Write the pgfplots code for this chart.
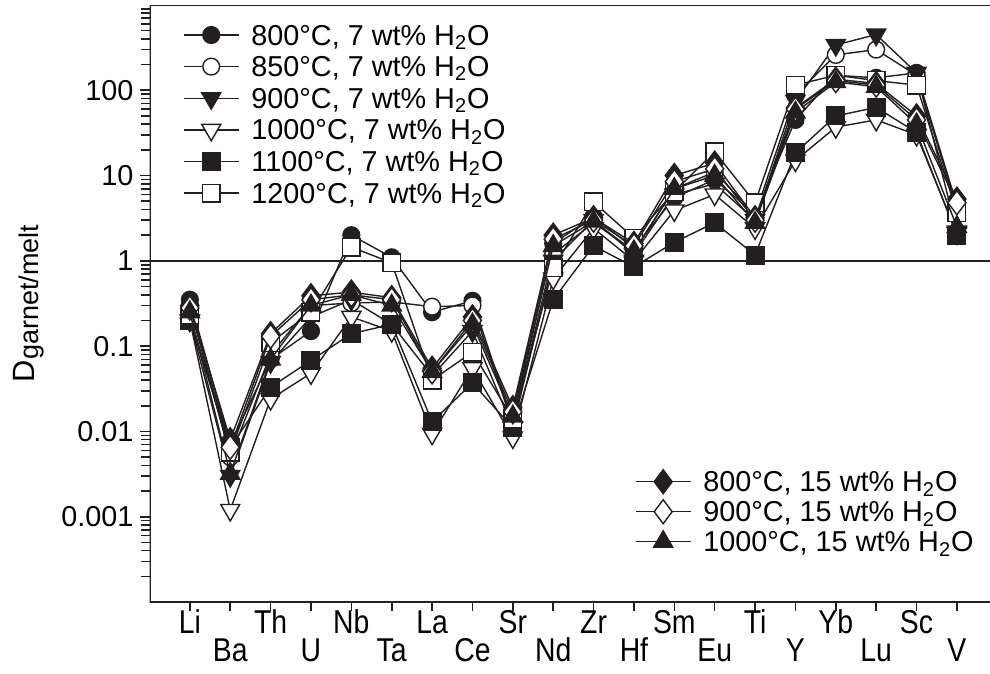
\documentclass[border=0pt]{standalone}
\usepackage{fontspec}
\setmainfont{Liberation Sans}
\usepackage{graphicx}
\usepackage{pgfplots}
\pgfplotsset{compat=1.18}
\usepackage{pgfplotstable}
\definecolor{ink}{RGB}{35,31,32}
\newcommand{\xl}[1]{\scalebox{0.86}[1]{#1}}
\newcommand{\lw}[1]{\raisebox{-14pt}{\scalebox{0.86}[1]{#1}}}

\pgfplotstableread{
x A B C D E F G H I
0 0.35 0.30 0.20 0.20 0.20 0.23 0.30 0.28 0.25
1 0.007 0.005 0.003 0.0012 0.0065 0.0057 0.008 0.0065 0.0032
2 0.07 0.08 0.065 0.024 0.033 0.11 0.14 0.13 0.07
3 0.15 0.30 0.22 0.048 0.068 0.25 0.39 0.35 0.30
4 2.0 0.32 0.35 0.22 0.14 1.45 0.43 0.40 0.40
5 1.1 0.33 0.18 0.15 0.18 0.95 0.37 0.35 0.30
6 0.25 0.29 0.045 0.0094 0.013 0.04 0.055 0.05 0.05
7 0.34 0.30 0.15 0.055 0.037 0.085 0.22 0.20 0.18
8 0.013 0.012 0.011 0.0085 0.011 0.014 0.019 0.017 0.015
9 1.6 1.2 1.0 0.62 0.35 0.83 2.0 1.8 1.5
10 3.3 2.8 3.0 2.4 1.5 4.9 3.2 3.0 2.9
11 1.4 1.3 1.2 1.0 0.85 1.85 1.6 1.5 1.3
12 5.5 7.0 6.0 3.9 1.65 6.5 10 8.5 7.0
13 9.0 11 8.0 6.0 2.8 19 14 12 10
14 3.5 3.5 3.0 2.4 1.17 4.8 3.2 3.0 2.8
15 45 88 75 15 18.5 115 62 60 55
16 150 260 340 37 50 150 135 130 125
17 140 300 450 45 63 130 120 115 110
18 160 150 160 30 32 115 50 45 40
19 4.5 4.0 2.2 2.1 2.0 3.7 5.3 4.8 2.5
}\data

\pgfplotsset{
  myser/.style={ink, line width=0.7pt, mark options={solid, draw=ink, line width=0.75pt}},
  legend image code/.code={\draw[mark repeat=2,mark phase=2,#1] plot coordinates {(0pt,0pt) (13.75pt,0pt) (27.5pt,0pt)};},
}

\begin{document}
\begin{tikzpicture}
\begin{axis}[
  scale only axis, width=420.25pt, height=298.5pt,
  xmin=-1, xmax=19.82, ymode=log, ymin=1e-4, ymax=1e3,
  legend cell align=left,
  axis line style={draw=none},
  tick pos=left, tick align=outside,
  tick style={ink, line width=0.8pt},
  major tick length=4.5pt, minor tick length=4pt,
  xtick={0,...,19},
  xticklabels={\xl{Li},\lw{Ba},\xl{Th},\lw{U},\xl{Nb},\lw{Ta},\xl{La},\lw{Ce},\xl{Sr},\lw{Nd},\xl{Zr},\lw{Hf},\xl{Sm},\lw{Eu},\xl{Ti},\lw{Y},\xl{Yb},\lw{Lu},\xl{Sc},\lw{V}},
  xticklabel style={font=\fontsize{16.5}{18}\selectfont, anchor=base, yshift=-11.5pt},
  ytick={0.001,0.01,0.1,1,10,100},
  yticklabels={0.001,0.01,0.1,1,10,100},
  yticklabel style={font=\fontsize{14.4}{16}\selectfont, anchor=east},
  minor ytick={2e-4,3e-4,4e-4,5e-4,6e-4,7e-4,8e-4,9e-4,
    2e-3,3e-3,4e-3,5e-3,6e-3,7e-3,8e-3,9e-3,
    2e-2,3e-2,4e-2,5e-2,6e-2,7e-2,8e-2,9e-2,
    0.2,0.3,0.4,0.5,0.6,0.7,0.8,0.9,
    2,3,4,5,6,7,8,9,
    20,30,40,50,60,70,80,90,
    200,300,400,500,600,700,800,900},
  legend style={at={(axis description cs:0.0399,0.9762)}, anchor=north west,
    draw=none, fill=none, inner sep=0pt, outer sep=0pt, row sep=0pt, column sep=6pt,
    font=\fontsize{14.4}{16}\selectfont,
    nodes={inner sep=0pt, text height=12.9pt, text depth=2.9pt}},
]
\addplot[ink, line width=0.75pt, forget plot] coordinates {(-1,1) (19.82,1)};
\addplot[myser, mark=*, mark size=4.2pt, mark options={fill=ink}] table[x=x,y=A]{\data};
\addlegendentry{800°C, 7 wt\% H\textsubscript{2}O}
\addplot[myser, mark=*, mark size=4.2pt, mark options={fill=white}] table[x=x,y=B]{\data};
\addlegendentry{850°C, 7 wt\% H\textsubscript{2}O}
\addplot[myser, mark=triangle*, mark size=5.5pt, mark options={fill=ink, rotate=180}] table[x=x,y=C]{\data};
\addlegendentry{900°C, 7 wt\% H\textsubscript{2}O}
\addplot[myser, mark=triangle*, mark size=5.5pt, mark options={fill=white, rotate=180}] table[x=x,y=D]{\data};
\addlegendentry{1000°C, 7 wt\% H\textsubscript{2}O}
\addplot[myser, mark=square*, mark size=4.4pt, mark options={fill=ink}] table[x=x,y=E]{\data};
\addlegendentry{1100°C, 7 wt\% H\textsubscript{2}O}
\addplot[myser, mark=square*, mark size=4.4pt, mark options={fill=white}] table[x=x,y=F]{\data};
\addlegendentry{1200°C, 7 wt\% H\textsubscript{2}O}
\draw[ink, line width=1pt] (rel axis cs:1,1) -- (rel axis cs:0,1) -- (rel axis cs:0,0) -- (rel axis cs:1,0);
\end{axis}
\begin{axis}[
  scale only axis, width=420.25pt, height=298.5pt,
  xmin=-1, xmax=19.82, ymode=log, ymin=1e-4, ymax=1e3,
  legend cell align=left,
  hide axis,
  legend style={at={(axis description cs:0.5776,0.2266)}, anchor=north west,
    draw=none, fill=none, inner sep=0pt, outer sep=0pt, row sep=0pt, column sep=6pt,
    font=\fontsize{14.4}{16}\selectfont,
    nodes={inner sep=0pt, text height=12.5pt, text depth=2.5pt}},
]
\addplot[myser, mark=diamond*, mark size=6pt, mark options={fill=ink}] table[x=x,y=G]{\data};
\addlegendentry{800°C, 15 wt\% H\textsubscript{2}O}
\addplot[myser, mark=diamond*, mark size=6pt, mark options={fill=white}] table[x=x,y=H]{\data};
\addlegendentry{900°C, 15 wt\% H\textsubscript{2}O}
\addplot[myser, mark=triangle*, mark size=5.5pt, mark options={fill=ink}] table[x=x,y=I]{\data};
\addlegendentry{1000°C, 15 wt\% H\textsubscript{2}O}
\end{axis}
\node[rotate=90, anchor=base, font=\fontsize{15.4}{17}\selectfont] at (-57.25pt,149.25pt)
  {D{\fontsize{13.5}{15}\selectfont\raisebox{-2pt}{garnet/melt}}};
\pgfresetboundingbox
\path (-74.75pt,-36pt) rectangle (420.25pt,301pt);
\end{tikzpicture}
\end{document}
